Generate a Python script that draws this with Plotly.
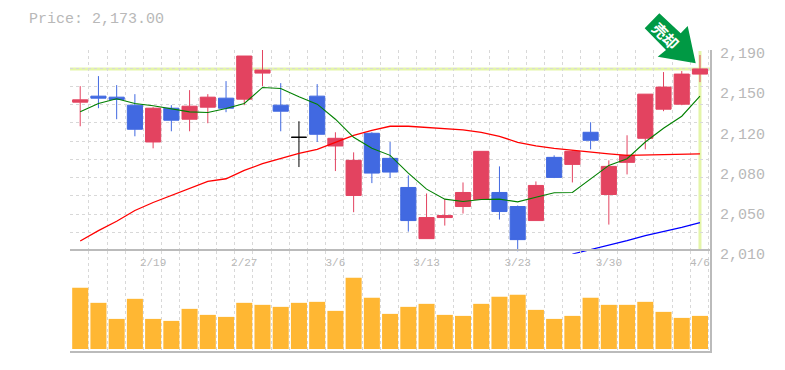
import plotly.graph_objects as go

candle_index = list(range(35))
highs = [2157.6,2166.6,2158.5,2150.4,2138.7,2140.5,2154.0,2150.4,2162.1,2184.6,2190.0,2160.3,2126.1,2159.4,2116.2,2098.2,2116.2,2107.5,2077.5,2061.3,2056.2,2071.2,2099.1,2085.6,2050.5,2072.1,2095.5,2100.0,2125.2,2091.0,2113.5,2150.4,2170.2,2171.1,2185.5]
lows = [2121.6,2137.8,2127.9,2112.6,2101.8,2117.1,2117.1,2124.3,2134.2,2140.5,2157.6,2117.1,2085.0,2107.5,2081.4,2044.5,2070.6,2075.1,2027.1,2020.8,2032.5,2043.3,2055.9,2037.9,2009.4,2037.0,2075.1,2071.2,2100.9,2033.4,2078.4,2100.9,2135.1,2140.5,2161.2]
opens = [2143.2,2148.6,2147.7,2140.5,2107.5,2137.8,2127.9,2138.7,2146.8,2145.9,2169.3,2140.5,2111.7,2148.6,2103.9,2059.5,2115.3,2092.8,2066.7,2020.8,2039.7,2049.6,2055.9,2062.2,2049.6,2037.0,2093.7,2087.4,2116.2,2060.4,2089.2,2110.8,2136.9,2141.4,2168.4]
closes = [2145.3,2146.8,2145.6,2118.9,2137.8,2127.0,2139.6,2147.7,2137.8,2184.6,2172.0,2135.1,2111.7,2114.4,2110.8,2091.0,2079.6,2080.5,2037.0,2039.7,2041.5,2062.2,2099.1,2045.1,2019.9,2068.5,2075.7,2099.1,2109.0,2085.6,2095.5,2150.4,2156.7,2168.4,2173.0]
ma_short = [2134.5,2142.0,2146.2,2142.0,2140.0,2137.5,2134.5,2133.9,2137.5,2142.0,2156.4,2155.5,2148.0,2141.4,2127.9,2111.7,2101.8,2095.5,2079.6,2065.2,2056.2,2054.1,2055.9,2056.2,2053.8,2058.0,2061.9,2062.2,2074.5,2086.5,2092.5,2107.5,2119.8,2130.6,2148.6]
ma_mid = [2018.7,2028.0,2036.4,2046.0,2053.2,2059.5,2066.4,2072.1,2074.5,2082.0,2088.0,2092.5,2097.3,2100.9,2107.2,2113.5,2118.0,2121.6,2121.6,2120.7,2119.8,2118.3,2116.2,2112.6,2107.2,2104.0,2101.8,2100.0,2098.2,2096.9,2095.5,2096.0,2096.0,2096.4,2096.9]
ma_long_index = [27,28,29,30,31,32,33,34]
ma_long = [2007.0,2010.9,2015.1,2019.0,2023.5,2027.1,2031.0,2035.2]
volumes = [61000,46000,30000,50000,30000,28000,40000,34000,32000,46000,44000,42000,46000,47000,38000,71000,51000,35000,42000,45000,34000,33000,45000,52000,54000,39000,30000,33000,51000,44000,44000,47000,37000,31000,33000]
date_index = [4,9,14,19,24,29,34]
date_labels = ["2/19","2/27","3/6","3/13","3/23","3/30","4/6"]
price_tick_vals = [2190,2154,2118,2082,2046,2010]
price_tick_text = ["2,190","2,150","2,120","2,080","2,050","2,010"]
last_price = 2173
doji = 12

RED, BLUE, GRID, AXIS, TXT, HL = "#e34360", "#4169e1", "#d8d8d8", "#bbbbbb", "#b8b8b8", "#e4f5a9"
MONO = "Liberation Mono, Courier New, monospace"
W, H = 785, 370
L, R, T, B = 70, 710, 50, 350
XR = [-0.56, 34.55]
xs = [i for i in candle_index if i != doji]

def pick(a): return [a[i] for i in xs]
def px(x, y): return (x - L) / (R - L), (B - y) / (B - T)

fig = go.Figure()
fig.add_trace(go.Candlestick(x=xs, open=pick(opens), high=pick(highs), low=pick(lows), close=pick(closes),
    increasing=dict(line=dict(color=RED, width=1), fillcolor=RED),
    decreasing=dict(line=dict(color=BLUE, width=1), fillcolor=BLUE),
    xaxis="x", yaxis="y", whiskerwidth=0))
fig.add_trace(go.Candlestick(x=[doji], open=[opens[doji]], high=[highs[doji]], low=[lows[doji]], close=[closes[doji]],
    increasing=dict(line=dict(color="#000000", width=1), fillcolor="#000000"),
    decreasing=dict(line=dict(color="#000000", width=1), fillcolor="#000000"),
    xaxis="x", yaxis="y", whiskerwidth=0))
fig.add_trace(go.Scatter(x=candle_index, y=ma_mid, mode="lines", line=dict(color="#ff0000", width=1.3), xaxis="x", yaxis="y"))
fig.add_trace(go.Scatter(x=candle_index, y=ma_short, mode="lines", line=dict(color="#008000", width=1.1), xaxis="x", yaxis="y"))
fig.add_trace(go.Scatter(x=ma_long_index, y=ma_long, mode="lines", line=dict(color="#0000ff", width=1.3), xaxis="x", yaxis="y"))
fig.add_trace(go.Bar(x=candle_index, y=volumes, marker=dict(color="#ffb733", line=dict(width=0)), width=0.88, xaxis="x2", yaxis="y2"))

minor_x = dict(showgrid=True, gridcolor=GRID, griddash="3px,3px", gridwidth=1, tick0=-0.53, dtick=1, ticks="")

arrow_px = [(659.3,13.3),(644.7,28.3),(666,50),(657.7,56.7),(695.7,63.3),(687.7,26),(680.7,33.3)]
arrow_path = "M " + " L ".join("%.5f,%.5f" % px(*p) for p in arrow_px) + " Z"

fig.update_layout(
    width=W, height=H, margin=dict(l=L, r=W-R, t=T, b=H-B-1, pad=0, autoexpand=False),
    paper_bgcolor="white", plot_bgcolor="rgba(0,0,0,0)", showlegend=False,
    boxgap=0.17, boxgroupgap=0, boxmode="overlay", bargap=0.12,
    title=dict(text="Price: 2,173.00", font=dict(family=MONO, size=15, color=TXT),
               xref="container", yref="container", x=29/W, xanchor="left", y=1-18/H, yanchor="middle", pad=dict(l=0,r=0,t=0,b=0)),
    xaxis=dict(domain=[0,1], range=XR, anchor="y", rangeslider=dict(visible=False),
               showgrid=False, minor=minor_x, tickmode="array", tickvals=[], showticklabels=False,
               ticks="", showline=False, zeroline=False),
    yaxis=dict(domain=[97/300,1], range=[2007.3,2190], side="right", anchor="x", showgrid=False,
               minor=dict(showgrid=True, gridcolor=GRID, griddash="3px,3px", gridwidth=1, tick0=2190, dtick=16.3636, ticks=""),
               tickmode="array", tickvals=price_tick_vals, ticktext=price_tick_text, ticks="", ticklabelshift=3,
               ticklabelstandoff=5, tickfont=dict(family=MONO, size=15, color=TXT), showline=True, linecolor=AXIS, linewidth=2, zeroline=False),
    xaxis2=dict(domain=[0,1], range=XR, anchor="y2", side="top", ticklabelposition="inside", mirror=True,
                showgrid=False, minor=minor_x, ticks="", ticklabelstandoff=7,
                tickmode="array", tickvals=date_index, ticktext=date_labels, tickfont=dict(family=MONO, size=11, color=TXT),
                showline=True, linecolor=AXIS, linewidth=2, zeroline=False),
    yaxis2=dict(domain=[0,100/300], range=[-2000,98000], side="right", anchor="x2", showgrid=False, showticklabels=False,
                ticks="", showline=True, linecolor=AXIS, linewidth=2, zeroline=False),
    shapes=[
        dict(type="line", xref="paper", yref="y", x0=0, x1=1, y0=last_price, y1=last_price, line=dict(color=HL, width=3), layer="below"),
        dict(type="line", xref="x", yref="y", x0=34, x1=34, y0=2189, y1=2011, line=dict(color=HL, width=3), layer="below"),
        dict(type="path", xref="paper", yref="paper", path=arrow_path, fillcolor="#009944", line=dict(width=0), layer="above"),
    ],
    annotations=[dict(text="<b>売却</b>", xref="paper", yref="paper", x=px(666,35.5)[0], y=px(666,35.5)[1],
                      showarrow=False, textangle=45, font=dict(family="Noto Sans CJK JP", size=15, color="white"),
                      xanchor="center", yanchor="middle")],
)
fig.write_html("out.html", config=dict(displayModeBar=False), post_script="document.body.style.margin='0';")
